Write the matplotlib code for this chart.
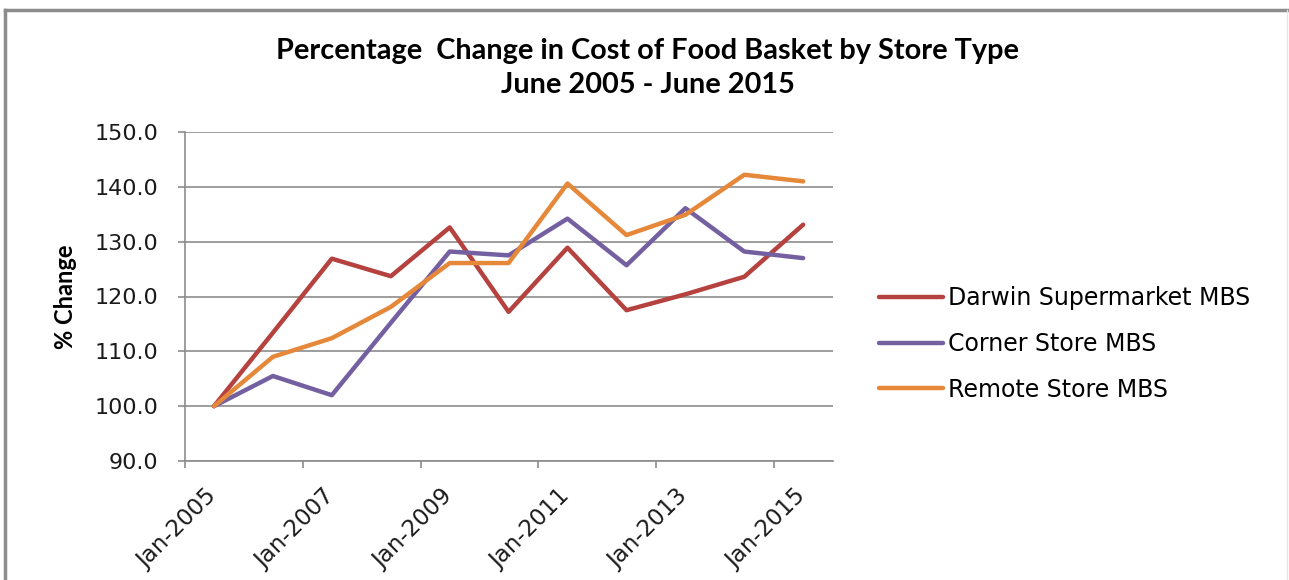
import datetime as dt

import matplotlib
matplotlib.use("Agg")
import matplotlib.pyplot as plt
import matplotlib.dates as mdates
import matplotlib.transforms as mtransforms
from matplotlib.lines import Line2D

# data points are June of each year
years = list(range(2005, 2016))
darwin = [100.0, 113.4, 126.9, 123.7, 132.6, 117.2, 128.9, 117.5, 120.4, 123.6, 133.1]
corner = [100.0, 105.5, 102.0, 115.2, 128.2, 127.5, 134.2, 125.7, 136.1, 128.2, 127.0]
remote = [100.0, 109.0, 112.4, 118.1, 126.1, 126.1, 140.6, 131.2, 134.9, 142.2, 141.0]
series_names = ["Darwin Supermarket MBS", "Corner Store MBS", "Remote Store MBS"]
colors = ["#B5423F", "#7460A0", "#E5883A"]
tick_years = [2005, 2007, 2009, 2011, 2013, 2015]

dates = [dt.date(y, 6, 30) for y in years]

fig = plt.figure(figsize=(12.89, 5.80), dpi=100)
ax = fig.add_axes([185 / 1289, 1 - 461 / 580, (833 - 185) / 1289, (461 - 132) / 580])

for vals, name, c in zip([darwin, corner, remote], series_names, colors):
    ax.plot(dates, vals, color=c, lw=3.2, label=name, solid_capstyle="round", zorder=3)

ax.set_xlim(dt.date(2005, 1, 1), dt.date(2016, 1, 1))
ax.set_ylim(90, 150)
ax.set_yticks(range(90, 151, 10))
ax.yaxis.set_major_formatter(matplotlib.ticker.FormatStrFormatter("%.1f"))
ax.set_xticks([dt.date(y, 1, 1) for y in tick_years])
ax.xaxis.set_major_formatter(mdates.DateFormatter("%b-%Y"))
ax.yaxis.grid(True, color="#8C8C8C", lw=1.2)
ax.set_axisbelow(True)

for s in ["top", "right"]:
    ax.spines[s].set_visible(False)
for s in ["left", "bottom"]:
    ax.spines[s].set_color("#8C8C8C")
    ax.spines[s].set_linewidth(1.2)
ax.tick_params(axis="both", colors="#8C8C8C", labelcolor="#1a1a1a", length=5, width=1.2)
ax.tick_params(axis="y", labelsize=16, pad=14)
ax.tick_params(axis="x", labelsize=16.5, pad=12)

# excel-style rotated date labels, shifted a bit left of the tick
shift = mtransforms.ScaledTranslation(-8 / 100, 0, fig.dpi_scale_trans)
for lab in ax.get_xticklabels():
    lab.set_rotation(45)
    lab.set_ha("center")
    lab.set_va("top")
    lab.set_transform(lab.get_transform() + shift)

ax.set_ylabel("% Change", fontsize=17, fontweight="bold", family="Lato", labelpad=13)

fig.text(0.5027, 1 - 51 / 580, "Percentage  Change in Cost of Food Basket by Store Type",
         ha="center", va="center", fontsize=20.8, fontweight="bold", family="Lato")
fig.text(0.5027, 1 - 85 / 580, "June 2005 - June 2015",
         ha="center", va="center", fontsize=20.8, fontweight="bold", family="Lato")

leg = ax.legend(loc="center left", bbox_to_anchor=(858 / 1289, 1 - 344 / 580),
                bbox_transform=fig.transFigure, frameon=False, fontsize=17,
                handlelength=2.7, handletextpad=0.2, labelspacing=0.92)
for h in leg.get_lines():
    h.set_linewidth(3.2)

# chart border (top, left, faint right)
fig.add_artist(Line2D([5 / 1289, 1], [1 - 10 / 580, 1 - 10 / 580], color="#8C8C8C", lw=2.5,
                      transform=fig.transFigure))
fig.add_artist(Line2D([5 / 1289, 5 / 1289], [0, 1 - 10 / 580], color="#8C8C8C", lw=2.5,
                      transform=fig.transFigure))
fig.add_artist(Line2D([1287 / 1289, 1287 / 1289], [0, 1 - 10 / 580], color="#E6E6E6", lw=1,
                      transform=fig.transFigure))

fig.savefig("out.png", dpi=100)
